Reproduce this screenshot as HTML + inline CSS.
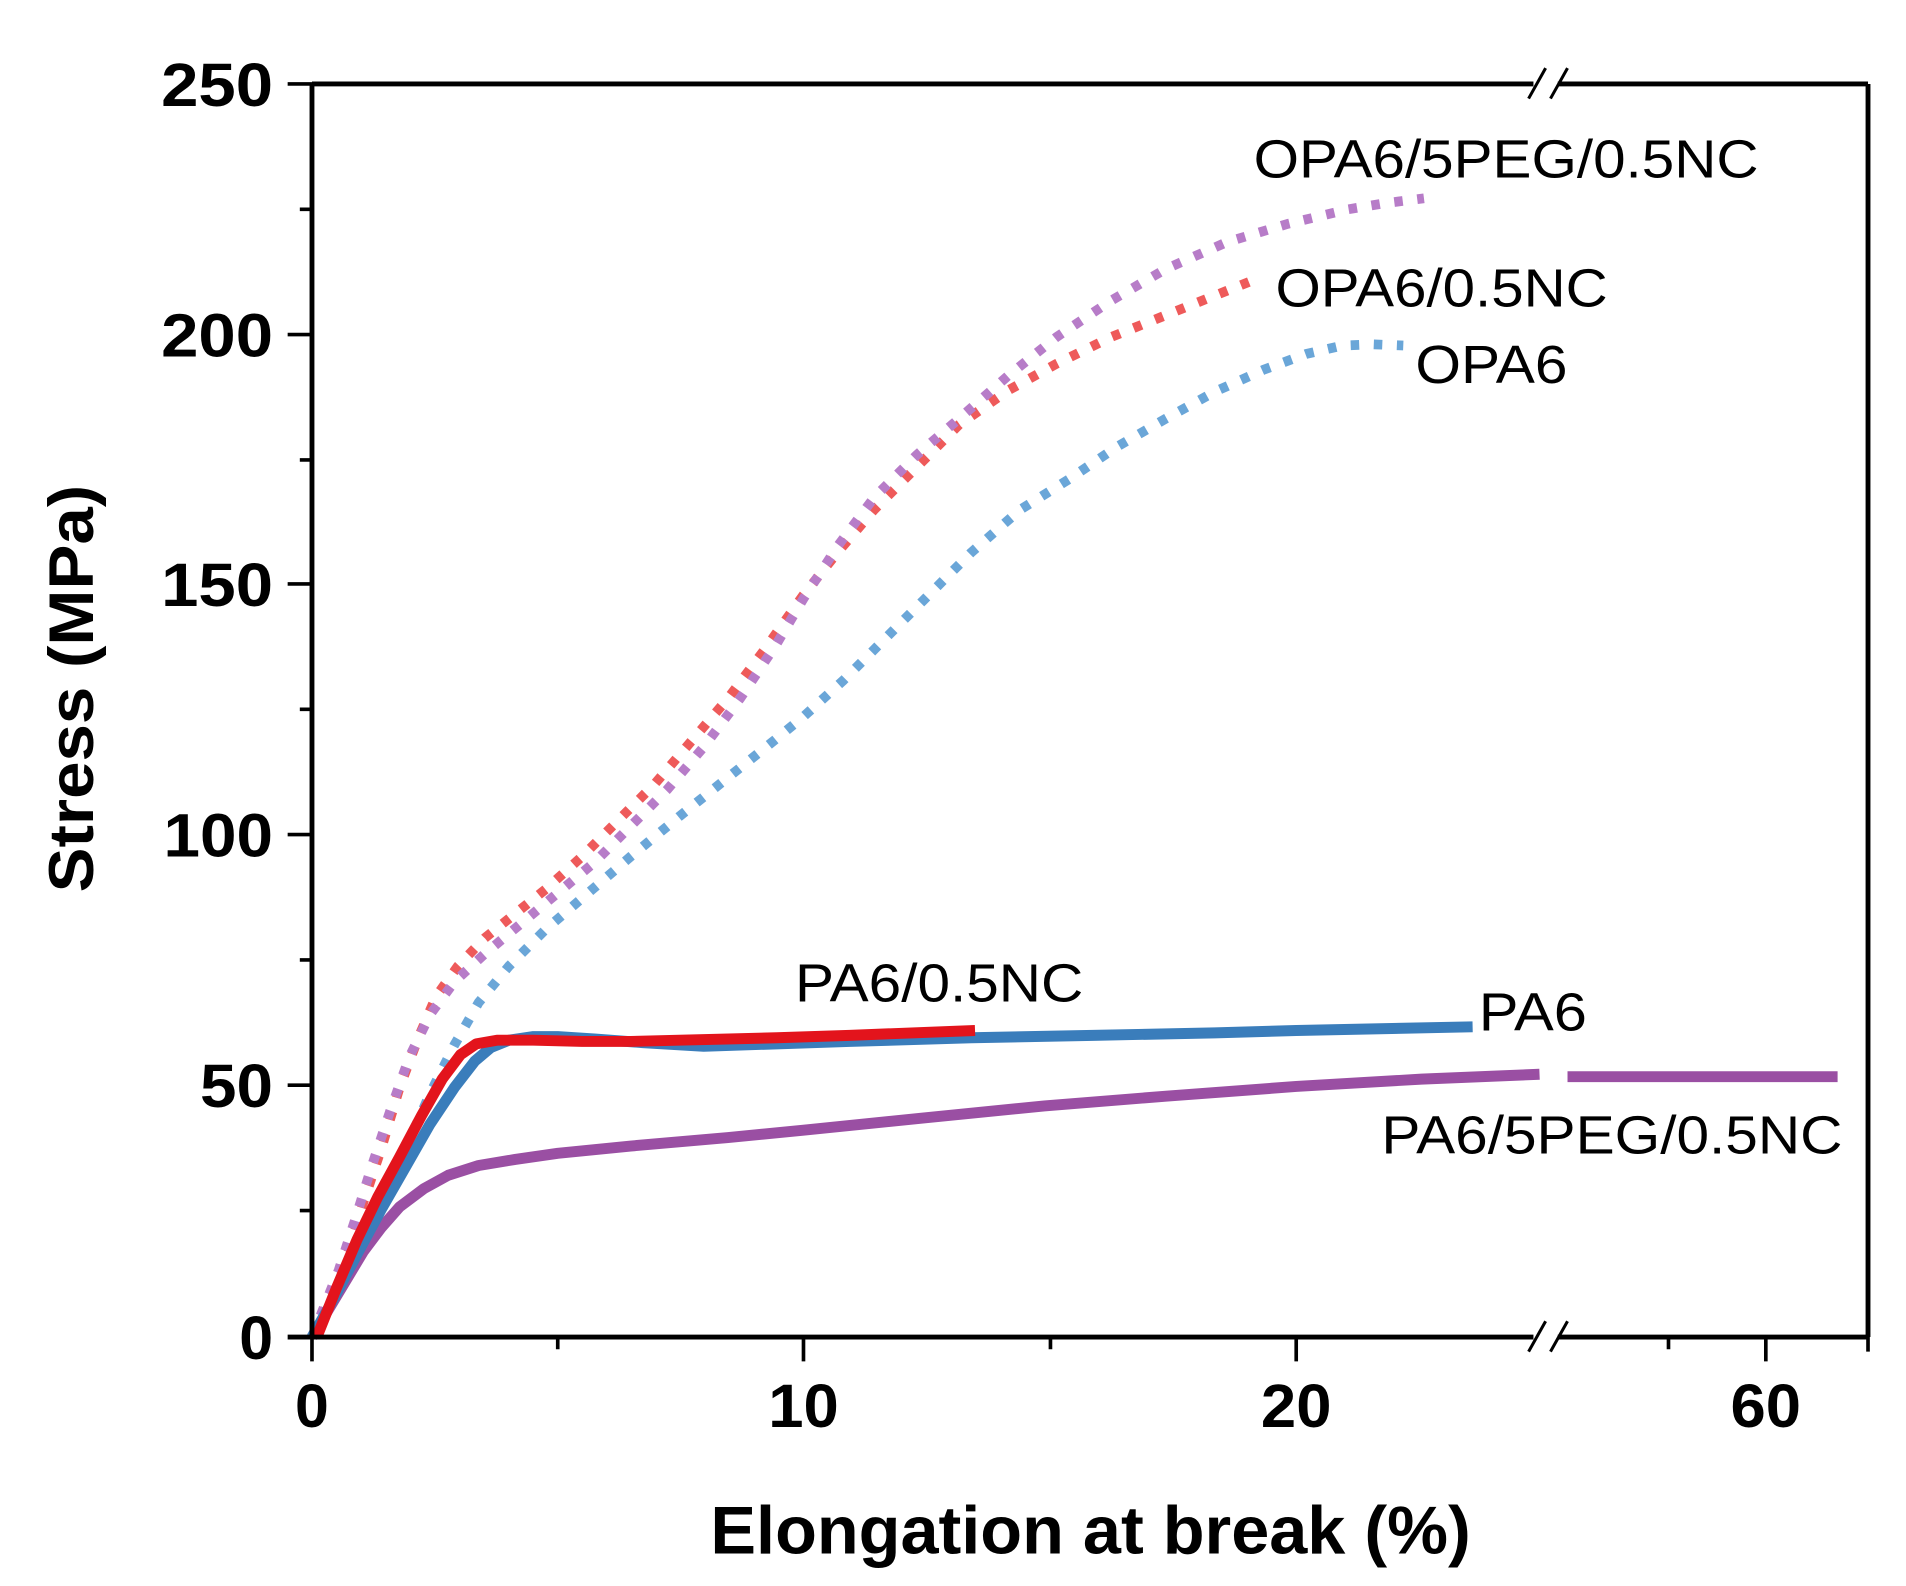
<!DOCTYPE html>
<html><head><meta charset="utf-8"><style>
html,body{margin:0;padding:0;background:#fff;}
svg{display:block;}
text{font-family:"Liberation Sans",sans-serif;}
</style></head><body>
<svg width="1906" height="1586" viewBox="0 0 1906 1586" xmlns="http://www.w3.org/2000/svg">
<rect width="1906" height="1586" fill="#fff"/>
<g transform="translate(-1.9,-1.2) scale(1.2166)">
<g fill="none" stroke-width="8" stroke-dasharray="7 12" stroke-linecap="butt" stroke-linejoin="round">
<path stroke="#6aa6d8" d="M258,1100 L275,1065 L295,1025 L315,985 L335,945 L355,900 L375,860 L395,825 L420,795 L450,765 L485,735 L520,705 L560,672 L600,640 L635,612 L662,590 L695,560 L725,530 L760,495 L800,455 L840,420 L880,395 L920,368 L960,345 L1000,323 L1040,305 L1075,292 L1105,285 L1130,284 L1155,285"/>
<path stroke="#ee5a5a" d="M258,1100 L270,1075 L285,1040 L300,990 L315,945 L330,895 L345,855 L360,820 L378,795 L400,772 L425,752 L450,732 L480,705 L510,675 L540,645 L570,610 L600,575 L630,535 L662,490 L690,455 L720,420 L755,385 L790,350 L830,322 L870,300 L915,278 L960,260 L1000,244 L1035,230"/>
<path stroke="#b77cc8" d="M258,1100 L268,1075 L280,1045 L293,1005 L307,960 L322,915 L338,870 L355,835 L375,808 L400,785 L430,760 L460,735 L490,710 L520,680 L550,650 L580,615 L610,575 L640,530 L662,493 L690,450 L720,410 L755,375 L790,345 L830,310 L870,278 L915,248 L960,222 L1010,200 L1060,185 L1110,173 L1140,168 L1172,164"/>
</g>
<g fill="none" stroke-width="9" stroke-linecap="butt" stroke-linejoin="round">
<path stroke="#9a4fa3" d="M258,1100 L270,1080 L285,1055 L300,1030 L315,1010 L330,993 L350,978 L370,967 L395,959 L425,954 L460,949 L520,943 L600,936 L662,930 L760,920 L860,910 L960,902 L1067,894 L1170,888 L1267,884"/>
<path stroke="#9a4fa3" d="M1290,886 L1512,886"/>
<path stroke="#3a7dbb" d="M258,1100 L275,1070 L295,1032 L315,995 L335,960 L355,925 L375,895 L392,873 L405,862 L420,856 L440,853 L460,853 L490,855 L530,858 L580,861 L640,859 L700,857 L800,854 L900,852 L1000,850 L1067,848 L1212,845"/>
<path stroke="#e3141c" d="M262,1100 L278,1060 L295,1020 L312,985 L330,952 L348,918 L365,888 L380,868 L393,859 L410,856 L440,856 L480,857 L520,857 L560,856 L640,854 L700,852 L803,848"/>
</g>
<g stroke="#000" fill="none">
<path stroke-width="4" d="M258,70 L258,1100"/>
<path stroke-width="4" d="M1537,70 L1537,1100"/>
<path stroke-width="4" d="M238,1100 L1262,1100 M1282,1100 L1537,1100"/>
<path stroke-width="4" d="M258,70 L1262,70 M1282,70 L1537,70"/>
<path stroke-width="2.5" d="M1258,1112 L1272,1087 M1276,1112 L1290,1087 M1258,82 L1272,57 M1276,82 L1290,57"/>
<path stroke-width="3" d="M238,70 H258 M238,276 H258 M238,481 H258 M238,687 H258 M238,893 H258
M248,173 H258 M248,379 H258 M248,584 H258 M248,790 H258 M248,996 H258"/>
<path stroke-width="3" d="M258,1100 V1120 M662,1100 V1120 M1067,1100 V1120 M1453,1100 V1120 M460,1100 V1110 M865,1100 V1110 M1373,1100 V1110 M1537,1100 V1112"/>
</g>
<g font-weight="bold" font-size="50" fill="#000" text-anchor="end">
<text x="226" y="88" textLength="92" lengthAdjust="spacingAndGlyphs">250</text>
<text x="226" y="294" textLength="92" lengthAdjust="spacingAndGlyphs">200</text>
<text x="226" y="499" textLength="92" lengthAdjust="spacingAndGlyphs">150</text>
<text x="226" y="705" textLength="90" lengthAdjust="spacingAndGlyphs">100</text>
<text x="226" y="911" textLength="60" lengthAdjust="spacingAndGlyphs">50</text>
<text x="226" y="1118">0</text>
</g>
<g font-weight="bold" font-size="50" fill="#000" text-anchor="middle">
<text x="258" y="1174">0</text>
<text x="662" y="1174" textLength="58" lengthAdjust="spacingAndGlyphs">10</text>
<text x="1067" y="1174" textLength="58" lengthAdjust="spacingAndGlyphs">20</text>
<text x="1453" y="1174" textLength="58" lengthAdjust="spacingAndGlyphs">60</text>
<text x="898" y="1278" font-size="56" textLength="625" lengthAdjust="spacingAndGlyphs">Elongation at break (%)</text>
<text transform="translate(78,567) rotate(-90)" font-size="52" textLength="335" lengthAdjust="spacingAndGlyphs">Stress (MPa)</text>
</g>
<g font-size="44" fill="#000">
<text x="1032" y="147" textLength="415" lengthAdjust="spacingAndGlyphs">OPA6/5PEG/0.5NC</text>
<text x="1050" y="253" textLength="273" lengthAdjust="spacingAndGlyphs">OPA6/0.5NC</text>
<text x="1165" y="316" textLength="125" lengthAdjust="spacingAndGlyphs">OPA6</text>
<text x="655" y="824" textLength="237" lengthAdjust="spacingAndGlyphs">PA6/0.5NC</text>
<text x="1217" y="848" textLength="89" lengthAdjust="spacingAndGlyphs">PA6</text>
<text x="1137" y="949" textLength="379" lengthAdjust="spacingAndGlyphs">PA6/5PEG/0.5NC</text>
</g>
</g>
</svg>
</body></html>
